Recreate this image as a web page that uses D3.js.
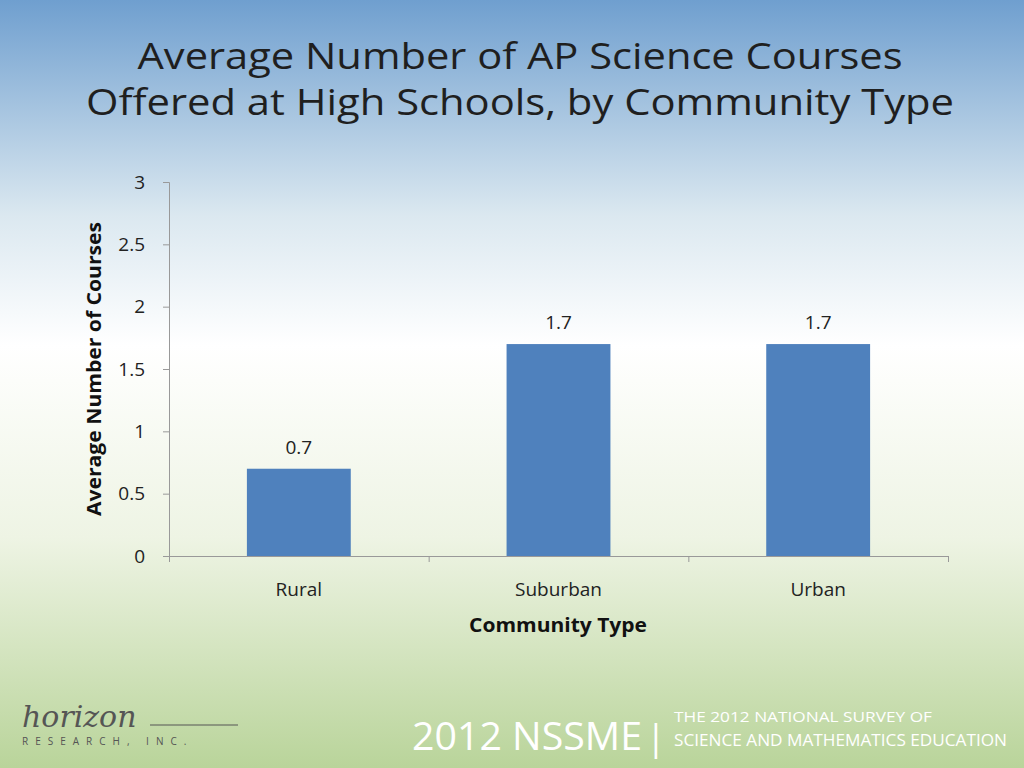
<!DOCTYPE html>
<html><head><meta charset="utf-8">
<script src="https://cdn.jsdelivr.net/npm/d3@7"></script>
<style>body{margin:0;overflow:hidden}</style>
</head><body><div id="chart"></div>
<script>
const categories = ["Rural", "Suburban", "Urban"];
const values = [0.7, 1.7, 1.7];
const yTicks = [0, 0.5, 1, 1.5, 2, 2.5, 3];

const width = 1024, height = 768;
const svg = d3.select("#chart").append("svg").attr("width", width).attr("height", height)
  .style("font-family", "'Open Sans', sans-serif");

// background gradient
const defs = svg.append("defs");
const g = defs.append("linearGradient").attr("id", "bg").attr("x1", 0).attr("y1", 0).attr("x2", 0).attr("y2", 1);
g.append("stop").attr("offset", "0").attr("stop-color", "#6f9fcf");
g.append("stop").attr("offset", "0.28").attr("stop-color", "#dbe8f0");
g.append("stop").attr("offset", "0.45").attr("stop-color", "#ffffff");
g.append("stop").attr("offset", "0.7").attr("stop-color", "#eef4e4");
g.append("stop").attr("offset", "1").attr("stop-color", "#b9d49a");
svg.append("rect").attr("width", width).attr("height", height).attr("fill", "url(#bg)");

// title (squeezed to mimic the narrow original face)
svg.append("text").attr("x", 520).attr("y", 69).attr("text-anchor", "middle")
  .attr("font-size", 37).attr("textLength", 765).attr("lengthAdjust", "spacingAndGlyphs")
  .attr("fill", "#1f1f1f").text("Average Number of AP Science Courses");
svg.append("text").attr("x", 520).attr("y", 115).attr("text-anchor", "middle")
  .attr("font-size", 37).attr("textLength", 868).attr("lengthAdjust", "spacingAndGlyphs")
  .attr("fill", "#1f1f1f").text("Offered at High Schools, by Community Type");

const x = d3.scaleBand().domain(categories).range([169, 948]).paddingInner(0.6).paddingOuter(0.3);
const y = d3.scaleLinear().domain([0, 3]).range([556, 182]);

// axes
const yAxis = svg.append("g").attr("transform", "translate(169,0)")
  .call(d3.axisLeft(y).tickValues(yTicks).tickFormat(d3.format("")).tickSize(6).tickPadding(18));
const xAxis = svg.append("g").attr("transform", "translate(0,556)")
  .call(d3.axisBottom(d3.scalePoint().domain([0,1,2,3]).range([169, 948])).tickSize(6).tickFormat(""));
[yAxis, xAxis].forEach(a => {
  a.selectAll("path,line").attr("stroke", "#999");
  a.selectAll("text").attr("font-size", 19).attr("fill", "#222").attr("font-family", "'Open Sans', sans-serif");
});

svg.selectAll(".cat").data(categories).enter().append("text")
  .attr("x", d => x(d) + x.bandwidth() / 2).attr("y", 596).attr("text-anchor", "middle")
  .attr("font-size", 19).attr("fill", "#222").text(d => d);

svg.selectAll(".bar").data(values).enter().append("rect")
  .attr("x", (d, i) => x(categories[i])).attr("y", d => y(d))
  .attr("width", x.bandwidth()).attr("height", d => y(0) - y(d)).attr("fill", "#4f81bd");

svg.selectAll(".lbl").data(values).enter().append("text")
  .attr("x", (d, i) => x(categories[i]) + x.bandwidth() / 2).attr("y", d => y(d) - 15)
  .attr("text-anchor", "middle").attr("font-size", 19).attr("fill", "#222").text(d => d);

svg.append("text").attr("x", 558).attr("y", 632).attr("text-anchor", "middle")
  .attr("font-size", 19).attr("font-weight", "bold").attr("textLength", 178).attr("lengthAdjust", "spacingAndGlyphs")
  .attr("fill", "#111").text("Community Type");
svg.append("text").attr("transform", "translate(101,369) rotate(-90)").attr("text-anchor", "middle")
  .attr("font-size", 19).attr("font-weight", "bold").attr("textLength", 294).attr("lengthAdjust", "spacingAndGlyphs")
  .attr("fill", "#111").text("Average Number of Courses");

// footer
svg.append("text").attr("x", 22).attr("y", 727).attr("font-size", 30).attr("font-style", "italic")
  .attr("font-family", "'DejaVu Serif', serif").attr("fill", "#555").text("horizon");
svg.append("line").attr("x1", 150).attr("x2", 238).attr("y1", 725).attr("y2", 725).attr("stroke", "#555");
svg.append("text").attr("x", 22).attr("y", 745).attr("font-size", 10).attr("letter-spacing", 7)
  .attr("fill", "#555").text("RESEARCH, INC.");
svg.append("text").attr("x", 412).attr("y", 750).attr("font-size", 38).attr("textLength", 230).attr("lengthAdjust", "spacingAndGlyphs")
  .attr("fill", "#fff").text("2012 NSSME");
svg.append("text").attr("x", 646).attr("y", 750).attr("font-size", 36).attr("fill", "#fff").text("|");
svg.append("text").attr("x", 674).attr("y", 722).attr("font-size", 15).attr("textLength", 258).attr("lengthAdjust", "spacingAndGlyphs")
  .attr("fill", "#fff").text("THE 2012 NATIONAL SURVEY OF");
svg.append("text").attr("x", 674).attr("y", 746).attr("font-size", 16).attr("textLength", 333).attr("lengthAdjust", "spacingAndGlyphs")
  .attr("fill", "#fff").text("SCIENCE AND MATHEMATICS EDUCATION");
</script></body></html>
